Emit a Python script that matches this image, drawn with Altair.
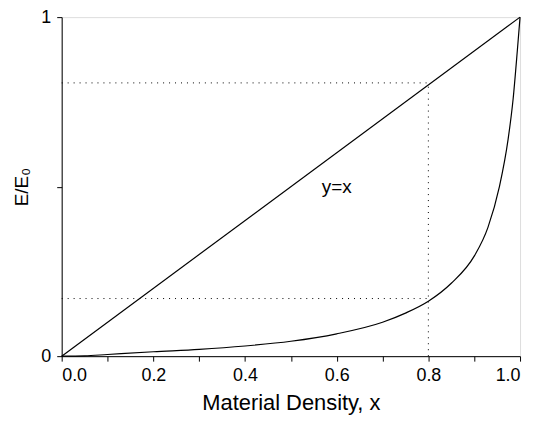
import altair as alt
import pandas as pd

# y = x reference line
line_x = [0.0, 1.0]
line_y = [0.0, 1.0]

# E/E0 curve
curve_x = [0.0, 0.05, 0.1, 0.2, 0.3, 0.4, 0.5, 0.6, 0.7, 0.75, 0.8, 0.85, 0.9, 0.93, 0.955, 0.974, 0.985, 0.994, 1.0]
curve_y = [0.0, 0.001, 0.005, 0.013, 0.02, 0.03, 0.044, 0.066, 0.10, 0.127, 0.162, 0.215, 0.295, 0.38, 0.50, 0.64, 0.76, 0.90, 1.0]

# dotted guide segments: (id, x, y, x2, y2)
guide_seg = [("h1", 0.0, 0.806, 0.8, 0.806), ("v", 0.8, 0.0, 0.8, 0.806), ("h2", 0.0, 0.17, 0.8, 0.17)]

label_text = ["y=x"]
label_x = [0.6]
label_y = [0.5]

x_ticks = [0.0, 0.1, 0.2, 0.3, 0.4, 0.5, 0.6, 0.7, 0.8, 0.9, 1.0]
y_ticks = [0.0, 0.5, 1.0]

font = "Liberation Sans"

xs = alt.Scale(domain=[0, 1], nice=False, zero=False)
ys = alt.Scale(domain=[0, 1], nice=False, zero=False)

xaxis = alt.Axis(values=x_ticks, title="Material Density, x",
                 labelExpr="(round(datum.value*10) % 2 == 0) ? format(datum.value, '.1f') : ''",
                 grid=False, tickSize=5, tickColor="black", domainColor="black",
                 labelColor="black", labelFontSize=18, titleFontSize=22, titleFontWeight="normal",
                 titleColor="black", labelFont=font, titleFont=font, titlePadding=9, labelPadding=5)
yaxis = alt.Axis(values=y_ticks, title="E/E₀",
                 labelExpr="datum.value == 0 ? '0' : (datum.value == 1 ? '1' : '')",
                 grid=False, tickSize=5, tickColor="black", domainColor="black",
                 labelColor="black", labelFontSize=18, titleFontSize=19, titleFontWeight="normal",
                 titleColor="black", labelFont=font, titleFont=font, titlePadding=9, labelPadding=6)

df_line = pd.DataFrame({"x": line_x, "y": line_y})
df_curve = pd.DataFrame({"x": curve_x, "y": curve_y})
df_guide = pd.DataFrame(guide_seg, columns=["id", "x", "y", "x2", "y2"])
df_label = pd.DataFrame({"t": label_text, "x": label_x, "y": label_y})

base_line = alt.Chart(df_line).mark_line(color="black", strokeWidth=1.2).encode(
    x=alt.X("x:Q", scale=xs, axis=xaxis),
    y=alt.Y("y:Q", scale=ys, axis=yaxis),
)
curve = alt.Chart(df_curve).mark_line(color="black", strokeWidth=1.2, interpolate="monotone").encode(
    x=alt.X("x:Q", scale=xs), y=alt.Y("y:Q", scale=ys)
)
guides = alt.Chart(df_guide).mark_rule(color="black", strokeWidth=1, strokeDash=[1, 5]).encode(
    x=alt.X("x:Q", scale=xs), y=alt.Y("y:Q", scale=ys), x2="x2:Q", y2="y2:Q"
)
label = alt.Chart(df_label).mark_text(fontSize=19, font=font, color="black").encode(
    x=alt.X("x:Q", scale=xs), y=alt.Y("y:Q", scale=ys), text="t:N"
)

chart = alt.layer(guides, base_line, curve, label).properties(
    width=461, height=341,
    autosize=alt.AutoSizeParams(type="none"),
    padding={"left": 54, "top": 8, "right": 8, "bottom": 60},
).configure_view(stroke="black", strokeWidth=1).configure(background="white")

chart.save("out.html", embed_options={"renderer": "svg", "actions": False})
